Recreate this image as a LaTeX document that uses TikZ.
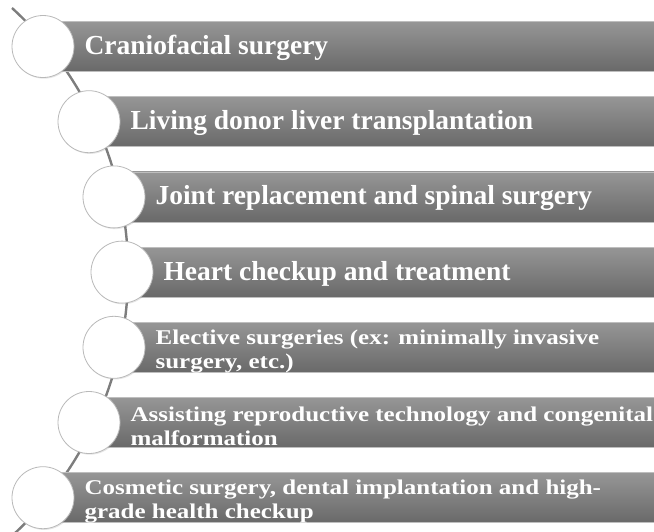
\documentclass[tikz,border=0pt]{standalone}
\usepackage{fontspec}
\setmainfont{Liberation Serif}
\newfontfamily\widerm[FakeStretch=1.19]{Liberation Serif}
\usepackage{tikz}
\usetikzlibrary{positioning, shadows}
\usepackage{xcolor}
\definecolor{barTop}{RGB}{150, 150, 150}
\definecolor{barBot}{RGB}{105, 105, 105}
\definecolor{barEdge}{RGB}{190, 190, 190}
\definecolor{ringGray}{RGB}{185, 185, 185}
\definecolor{lineGray}{RGB}{125, 125, 125}

\begin{document}
\begin{tikzpicture}[
    x=1pt, y=1pt,
    bar_style/.style={rectangle, anchor=west, inner sep=0pt,
      minimum height=50pt, top color=barTop, bottom color=barBot,
      draw=barEdge, line width=0.6pt},
    circ_style/.style={circle, minimum size=62pt, inner sep=0pt,
      fill=white, draw=ringGray, line width=0.8pt,
      drop shadow={opacity=0.2, shadow xshift=1pt, shadow yshift=-1.2pt}},
    line_style/.style={line width=2.4pt, lineGray},
    big_text/.style={font=\fontsize{27.5}{30}\selectfont\bfseries,
      text=white, inner sep=0pt, yshift=-1.5pt},
    small_text/.style={font=\widerm\fontsize{21}{24}\selectfont\bfseries,
      text=white, inner sep=0pt, align=left, yshift=-4pt}
]
    \useasboundingbox (0,0) rectangle (654,-531);

    % --- Courbe derriere les cercles ---
    \coordinate (line_top) at (12,-8);
    \draw[line_style] (line_top) arc[start angle=47.5, end angle=-47,
        radius=358];

    % --- Barres et cercles ---
    \foreach \i/\cx in {1/43, 2/89, 3/114, 4/122, 5/114, 6/89, 7/43}{
      \pgfmathsetmacro\cy{-(46.5+75.2*(\i-1))}
      \pgfmathsetmacro\w{660-\cx}
      \node[bar_style, minimum width=\w pt] (bar\i) at (\cx,\cy) {};
    }
    \foreach \i/\cx in {1/43, 2/89, 3/114, 4/122, 5/114, 6/89, 7/43}{
      \pgfmathsetmacro\cy{-(46.5+75.2*(\i-1))}
      \node[circ_style] (circ\i) at (\cx,\cy) {};
    }

    % --- Textes sur une ligne ---
    \foreach \i/\lab in {
      1/{Craniofacial surgery},
      2/{Living donor liver transplantation},
      3/{Joint replacement and spinal surgery},
      4/{Heart checkup and treatment}}{
      \node[big_text, right=10pt of circ\i] (txt\i) {\lab};
    }

    % --- Textes sur deux lignes ---
    \foreach \i/\lab in {
      5/{Elective surgeries (ex: minimally invasive\\surgery, etc.)},
      6/{Assisting reproductive technology and congenital\\malformation},
      7/{Cosmetic surgery, dental implantation and high-\\grade health checkup}}{
      \node[small_text, right=10pt of circ\i] (txt\i) {\lab};
    }

\end{tikzpicture}
\end{document}
